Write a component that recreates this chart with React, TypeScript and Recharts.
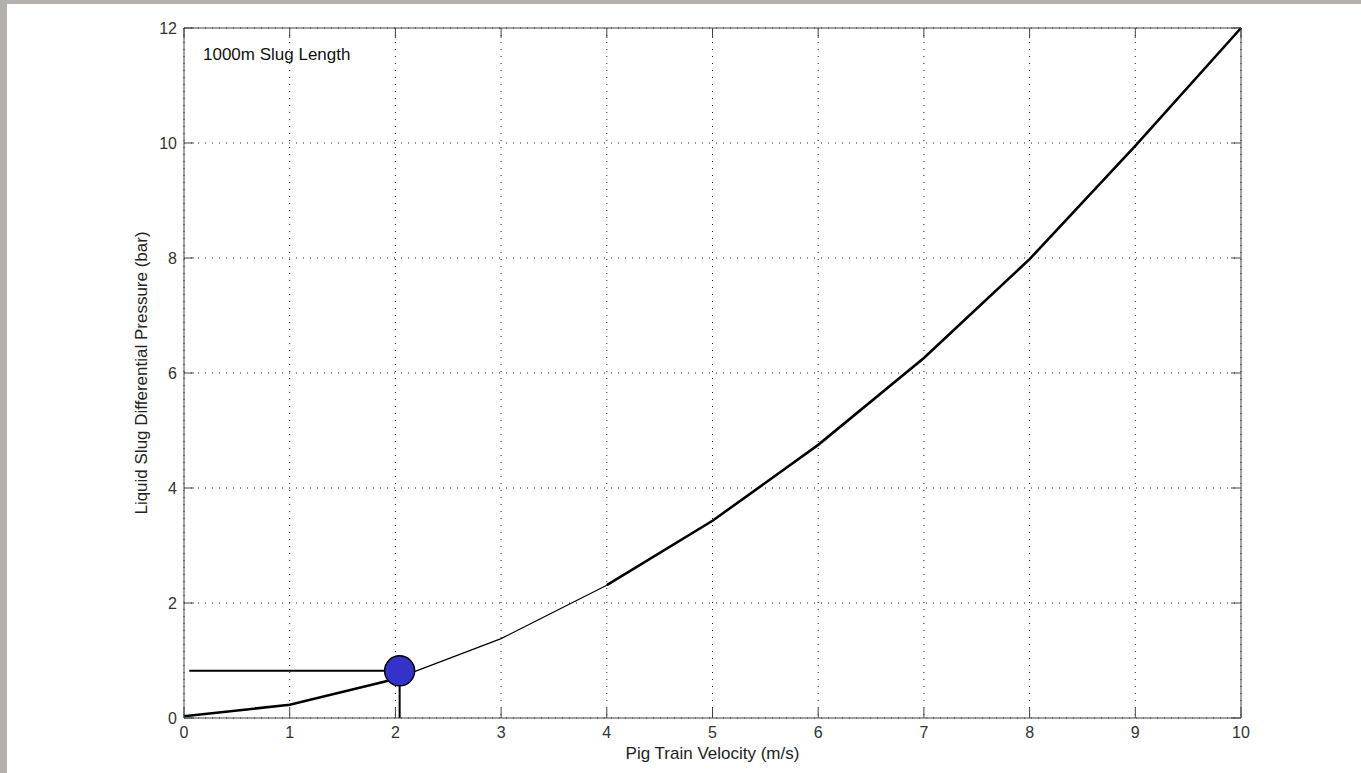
import React from 'react';
import { ComposedChart, Line, Scatter, XAxis, YAxis, CartesianGrid, ReferenceLine } from 'recharts';

// pig train velocity (m/s) vs liquid slug differential pressure (bar)
const velocity = [0, 1, 2, 3, 4, 5, 6, 7, 8, 9, 10];
const pressure = [0.03, 0.23, 0.68, 1.38, 2.31, 3.43, 4.75, 6.26, 7.98, 9.95, 12];

const xTicks = [0, 1, 2, 3, 4, 5, 6, 7, 8, 9, 10];
const yTicks = [0, 2, 4, 6, 8, 10, 12];

// operating point marker and its guide lines
const operatingPoint = { x: 2.04, y: 0.82 };
const guideStartX = 0.05;

const curve = velocity.map((v, i) => ({ x: v, y: pressure[i] }));
const lowPart = curve.slice(0, 3);
const midPart = curve.slice(2, 5);
const highPart = curve.slice(4);
const hGuide = [{ x: guideStartX, y: operatingPoint.y }, { x: operatingPoint.x, y: operatingPoint.y }];
const vGuide = [{ x: operatingPoint.x, y: 0 }, { x: operatingPoint.x, y: operatingPoint.y }];

const W = 1361;
const H = 773;
const MARGIN = { top: 28, right: 120, bottom: 0, left: 0 };
const PLOT_RIGHT = W - MARGIN.right;
const AXIS = '#444';
const TICK_LEN = 10;

// ticks point inward, mirrored on top/right like a boxed matlab axes
const BottomTick = (props: any) => {
  const { x, y, payload } = props;
  const axisY = y - 9;
  return (
    <g>
      <line x1={x} y1={axisY} x2={x} y2={axisY - TICK_LEN} stroke={AXIS} />
      <line x1={x} y1={MARGIN.top} x2={x} y2={MARGIN.top + TICK_LEN} stroke={AXIS} />
      <text x={x} y={y} dy="0.71em" textAnchor="middle" fontSize={16} fill="#333">{payload.value}</text>
    </g>
  );
};

const LeftTick = (props: any) => {
  const { x, y, payload } = props;
  const axisX = x + 7;
  return (
    <g>
      <line x1={axisX} y1={y} x2={axisX + TICK_LEN} y2={y} stroke={AXIS} />
      <line x1={PLOT_RIGHT} y1={y} x2={PLOT_RIGHT - TICK_LEN} y2={y} stroke={AXIS} />
      <text x={x} y={y} dy="0.355em" textAnchor="end" fontSize={16} fill="#333">{payload.value}</text>
    </g>
  );
};

const xLabel = (props: any) => {
  const vb = props.viewBox;
  return (
    <text x={vb.x + vb.width / 2} y={vb.y + 41} textAnchor="middle" fontSize={17} fill="#222">
      Pig Train Velocity (m/s)
    </text>
  );
};

const yLabel = (props: any) => {
  const vb = props.viewBox;
  const cx = vb.x + 147;
  const cy = vb.y + vb.height / 2;
  return (
    <text x={cx} y={cy} transform={`rotate(-90, ${cx}, ${cy})`} textAnchor="middle" fontSize={17} fill="#222">
      Liquid Slug Differential Pressure (bar)
    </text>
  );
};

const Marker = (props: any) => (
  <circle cx={props.cx} cy={props.cy} r={15} fill="#3333cc" stroke="#000" strokeWidth={1.5} />
);

export default function App() {
  return (
    <div style={{ position: 'absolute', left: 0, top: 0, width: W, height: H, background: '#fff', fontFamily: "'Liberation Sans', Arial, sans-serif" }}>
      <ComposedChart width={W} height={H} margin={MARGIN}>
        <CartesianGrid stroke="#222" strokeDasharray="1 6" />
        <XAxis dataKey="x" type="number" domain={[0, 10]} ticks={xTicks} height={55}
          stroke={AXIS} tickSize={0} tickMargin={9} tick={BottomTick} label={xLabel} />
        <YAxis dataKey="y" type="number" domain={[0, 12]} ticks={yTicks} width={184}
          stroke={AXIS} tickSize={0} tickMargin={7} tick={LeftTick} label={yLabel} />
        <ReferenceLine y={12} stroke={AXIS} />
        <ReferenceLine x={10} stroke={AXIS} />
        <Line data={lowPart} dataKey="y" type="linear" stroke="#000" strokeWidth={2.6} dot={false} activeDot={false} isAnimationActive={false} />
        <Line data={midPart} dataKey="y" type="linear" stroke="#000" strokeWidth={1.2} dot={false} activeDot={false} isAnimationActive={false} />
        <Line data={highPart} dataKey="y" type="linear" stroke="#000" strokeWidth={2.6} dot={false} activeDot={false} isAnimationActive={false} />
        <Line data={hGuide} dataKey="y" type="linear" stroke="#000" strokeWidth={2} dot={false} activeDot={false} isAnimationActive={false} />
        <Line data={vGuide} dataKey="y" type="linear" stroke="#000" strokeWidth={2} dot={false} activeDot={false} isAnimationActive={false} />
        <Scatter data={[operatingPoint]} dataKey="y" shape={Marker} isAnimationActive={false} />
      </ComposedChart>
      <svg width={W} height={H} style={{ position: 'absolute', left: 0, top: 0, pointerEvents: 'none' }}>
        <text x={203} y={60} fontSize={17} fill="#111">1000m Slug Length</text>
      </svg>
      <div style={{ position: 'absolute', left: 0, top: 0, width: W, height: 4, background: '#b4b0ac' }} />
      <div style={{ position: 'absolute', left: 0, top: 0, width: 7, height: H, background: '#b4b0ac' }} />
    </div>
  );
}
